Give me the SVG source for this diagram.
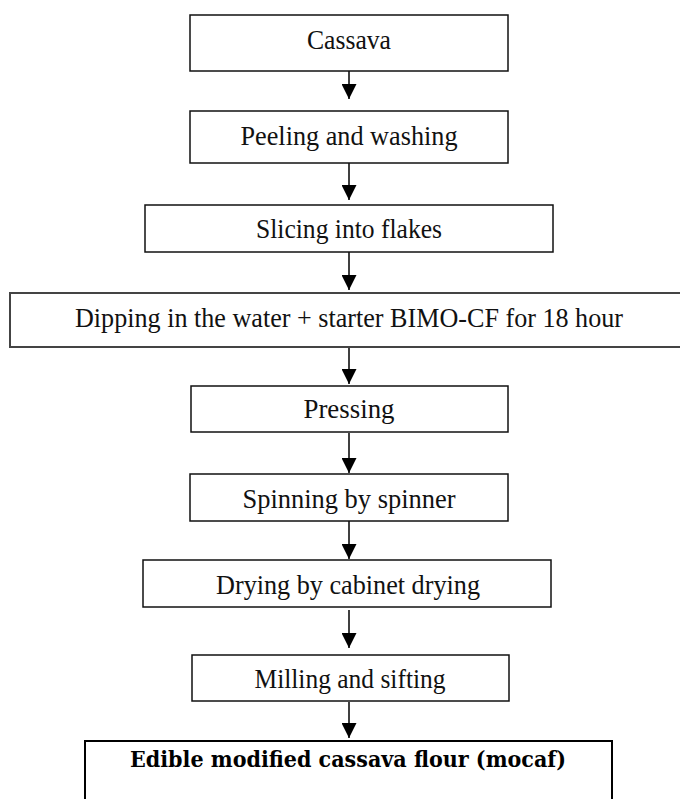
<svg xmlns="http://www.w3.org/2000/svg" width="680" height="799" viewBox="0 0 680 799">
  <style>
    .box { fill: #ffffff; stroke: #111111; stroke-width: 1.5; }
    .box-gray { fill: #ffffff; stroke: #444444; stroke-width: 2; }
    .box-bold { fill: #ffffff; stroke: #000000; stroke-width: 2; }
    .lbl { font-family: "Liberation Serif", "DejaVu Serif", serif; font-size: 26.5px; fill: #111111; text-anchor: middle; }
    .lbl-bold { font-family: "DejaVu Serif", "Liberation Serif", serif; font-weight: bold; font-size: 22px; fill: #000000; text-anchor: middle; }
    .conn { stroke: #000000; stroke-width: 1.5; fill: none; marker-end: url(#ah); }
  </style>
  <defs>
    <marker id="ah" markerUnits="userSpaceOnUse" markerWidth="15" markerHeight="15" viewBox="0 0 15 15" refX="15" refY="7.5" orient="auto">
      <path d="M0,0 L15,7.5 L0,15 Z" fill="#000000"/>
    </marker>
  </defs>
  <rect width="680" height="799" fill="#ffffff"/>

  <g id="connectors">
    <line class="conn" x1="349" y1="71" x2="349" y2="99"/>
    <line class="conn" x1="349" y1="163" x2="349" y2="200"/>
    <line class="conn" x1="349" y1="252" x2="349" y2="290"/>
    <line class="conn" x1="349" y1="347" x2="349" y2="384"/>
    <line class="conn" x1="349" y1="433" x2="349" y2="473"/>
    <line class="conn" x1="349" y1="521" x2="349" y2="559"/>
    <line class="conn" x1="349" y1="610" x2="349" y2="648"/>
    <line class="conn" x1="349" y1="702" x2="349" y2="738"/>
  </g>

  <g id="cassava">
    <rect class="box" x="190" y="15" width="318" height="56"/>
    <text class="lbl" x="349" y="49" textLength="84" lengthAdjust="spacingAndGlyphs">Cassava</text>
  </g>
  <g id="peeling">
    <rect class="box" x="190" y="111" width="318" height="52"/>
    <text class="lbl" x="349" y="145" textLength="217" lengthAdjust="spacingAndGlyphs">Peeling and washing</text>
  </g>
  <g id="slicing">
    <rect class="box" x="145" y="205" width="408" height="47"/>
    <text class="lbl" x="349" y="238" textLength="186" lengthAdjust="spacingAndGlyphs">Slicing into flakes</text>
  </g>
  <g id="dipping">
    <rect class="box-gray" x="10" y="293" width="678" height="54"/>
    <text class="lbl" x="349" y="327" textLength="548" lengthAdjust="spacingAndGlyphs">Dipping in the water + starter BIMO-CF for 18 hour</text>
  </g>
  <g id="pressing">
    <rect class="box" x="191" y="386" width="317" height="46"/>
    <text class="lbl" x="349" y="418" textLength="91" lengthAdjust="spacingAndGlyphs">Pressing</text>
  </g>
  <g id="spinning">
    <rect class="box" x="190" y="474" width="318" height="47"/>
    <text class="lbl" x="349" y="508" textLength="213" lengthAdjust="spacingAndGlyphs">Spinning by spinner</text>
  </g>
  <g id="drying">
    <rect class="box" x="143" y="560" width="408" height="47"/>
    <text class="lbl" x="348" y="594" textLength="264" lengthAdjust="spacingAndGlyphs">Drying by cabinet drying</text>
  </g>
  <g id="milling">
    <rect class="box" x="192" y="655" width="317" height="46"/>
    <text class="lbl" x="350" y="688" textLength="191" lengthAdjust="spacingAndGlyphs">Milling and sifting</text>
  </g>
  <g id="mocaf">
    <rect class="box-bold" x="85" y="741" width="527" height="70"/>
    <text class="lbl-bold" x="348" y="767" textLength="436" lengthAdjust="spacingAndGlyphs">Edible modified cassava flour (mocaf)</text>
  </g>
</svg>
